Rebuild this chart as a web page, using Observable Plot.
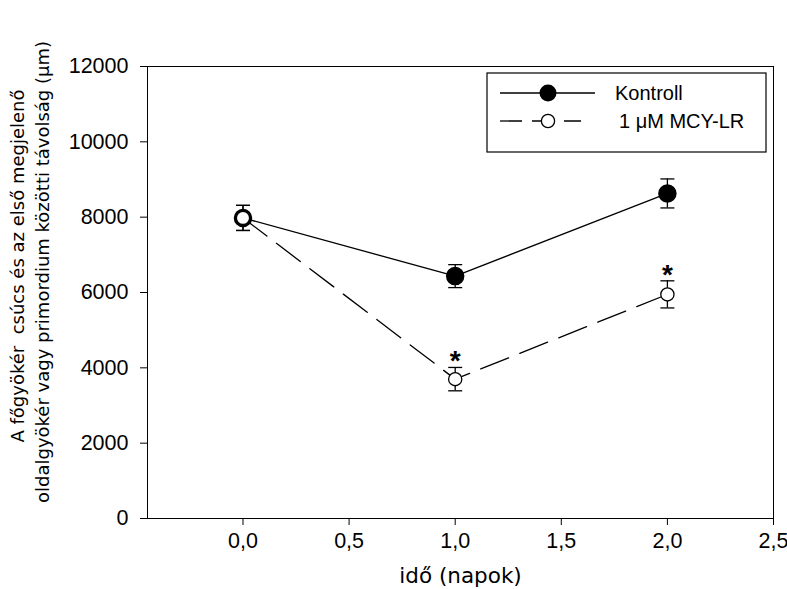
<!DOCTYPE html>
<html>
<head>
<meta charset="utf-8">
<script src="https://cdn.jsdelivr.net/npm/d3@7"></script>
<script src="https://cdn.jsdelivr.net/npm/@observablehq/plot@0.6"></script>
<style>
  html, body { margin: 0; padding: 0; background: #fff; }
  #chart svg { display: block; }
</style>
</head>
<body>
<div id="chart"></div>
<script>
// ---- data ----
const days = [0, 1, 2];
const kontrollMean = [7980, 6435, 8630];
const kontrollErr = [333, 305, 385];
const mcyMean = [7980, 3700, 5950];
const mcyErr = [333, 310, 360];
const significant = [false, true, true]; // MCY-LR vs Kontroll
const seriesNames = ["Kontroll", "1 \u03bcM MCY-LR"];
const xTicks = [0, 0.5, 1, 1.5, 2, 2.5];
const yTicks = [0, 2000, 4000, 6000, 8000, 10000, 12000];
const xLabel = "idő (napok)";
const yLabelLines = ["A főgyökér  csúcs és az első megjelenő", "oldalgyökér vagy primordium közötti távolság (µm)"];

const kontroll = days.map((d, i) => ({x: d, y: kontrollMean[i], lo: kontrollMean[i] - kontrollErr[i], hi: kontrollMean[i] + kontrollErr[i]}));
const mcy = days.map((d, i) => ({x: d, y: mcyMean[i], lo: mcyMean[i] - mcyErr[i], hi: mcyMean[i] + mcyErr[i], sig: significant[i]}));

const capSymbol = {draw(ctx) { ctx.moveTo(-7, 0); ctx.lineTo(7, 0); }};
const dash = "30,12";
const sans = "'Liberation Sans', Arial, sans-serif";
const verd = "'DejaVu Sans', Verdana, sans-serif";

const chart = Plot.plot({
  width: 787,
  height: 589,
  marginLeft: 147,
  marginRight: 14,
  marginTop: 66,
  marginBottom: 71,
  style: {fontFamily: sans, fontSize: "21.5px", color: "black", background: "white"},
  x: {domain: [-0.45, 2.5]},
  y: {domain: [0, 12000]},
  marks: [
    Plot.frame({stroke: "black", strokeWidth: 1}),
    Plot.axisY({ticks: yTicks, tickSize: 7, tickPadding: 12, label: null, tickFormat: d => String(d), strokeWidth: 1, fontSize: 21.5}),
    Plot.axisX({ticks: xTicks, tickSize: 7, tickPadding: 7, label: null, tickFormat: d => d.toFixed(1).replace(".", ","), strokeWidth: 1, fontSize: 21.5}),
    Plot.text([xLabel], {frameAnchor: "bottom", dy: 64, lineAnchor: "bottom", text: d => d, fontSize: 21.5, fontFamily: verd}),
    // lines
    Plot.line(kontroll, {x: "x", y: "y", stroke: "black", strokeWidth: 1.3}),
    Plot.line(mcy, {x: "x", y: "y", stroke: "black", strokeWidth: 1.3, strokeDasharray: dash}),
    // error bars
    Plot.ruleX(kontroll, {x: "x", y1: "lo", y2: "hi", stroke: "black", strokeWidth: 1.3}),
    Plot.dot(kontroll, {x: "x", y: "lo", symbol: capSymbol, stroke: "black", strokeWidth: 1.3}),
    Plot.dot(kontroll, {x: "x", y: "hi", symbol: capSymbol, stroke: "black", strokeWidth: 1.3}),
    Plot.ruleX(mcy, {x: "x", y1: "lo", y2: "hi", stroke: "black", strokeWidth: 1.3}),
    Plot.dot(mcy, {x: "x", y: "lo", symbol: capSymbol, stroke: "black", strokeWidth: 1.3}),
    Plot.dot(mcy, {x: "x", y: "hi", symbol: capSymbol, stroke: "black", strokeWidth: 1.3}),
    // markers
    Plot.dot(kontroll, {x: "x", y: "y", r: 8.5, fill: "black", stroke: "black"}),
    Plot.dot(mcy, {x: "x", y: "y", r: 6.6, fill: "white", stroke: "black", strokeWidth: 1.3}),
    // significance stars
    Plot.text(mcy.filter(d => d.sig), {x: "x", y: "hi", text: () => "*", dy: 3, lineAnchor: "bottom", fontSize: 28, fontWeight: "bold"})
  ]
});

const svg = d3.select(chart);

// y-axis title (two lines)
const yl = svg.append("g").style("font-family", verd).style("font-size", "18px").attr("fill", "black");
[17, 42].forEach((x, i) => {
  yl.append("text")
    .attr("transform", `translate(${x},${i === 0 ? 266 : 272}) rotate(-90)`)
    .attr("text-anchor", "middle")
    .attr("dominant-baseline", "central")
    .style("white-space", "pre")
    .text(yLabelLines[i]);
});

// legend
const lg = svg.append("g").style("font-family", sans).style("font-size", "20px");
lg.append("rect").attr("x", 487).attr("y", 73).attr("width", 279).attr("height", 79).attr("fill", "white").attr("stroke", "black").attr("stroke-width", 1.2);
// row 1
lg.append("line").attr("x1", 500).attr("x2", 595).attr("y1", 93).attr("y2", 93).attr("stroke", "black").attr("stroke-width", 1.3);
lg.append("circle").attr("cx", 548).attr("cy", 93).attr("r", 8.5).attr("fill", "black");
lg.append("text").attr("x", 615).attr("y", 93).attr("text-anchor", "start").attr("dominant-baseline", "central").text(seriesNames[0]);
// row 2
lg.append("line").attr("x1", 500).attr("x2", 581).attr("y1", 121).attr("y2", 121).attr("stroke", "black").attr("stroke-width", 1.3).attr("stroke-dasharray", "22,10");
lg.append("circle").attr("cx", 548).attr("cy", 121).attr("r", 6.6).attr("fill", "white").attr("stroke", "black").attr("stroke-width", 1.3);
lg.append("text").attr("x", 619).attr("y", 121).attr("text-anchor", "start").attr("dominant-baseline", "central").text(seriesNames[1]);

document.getElementById("chart").appendChild(chart);
</script>
</body>
</html>
